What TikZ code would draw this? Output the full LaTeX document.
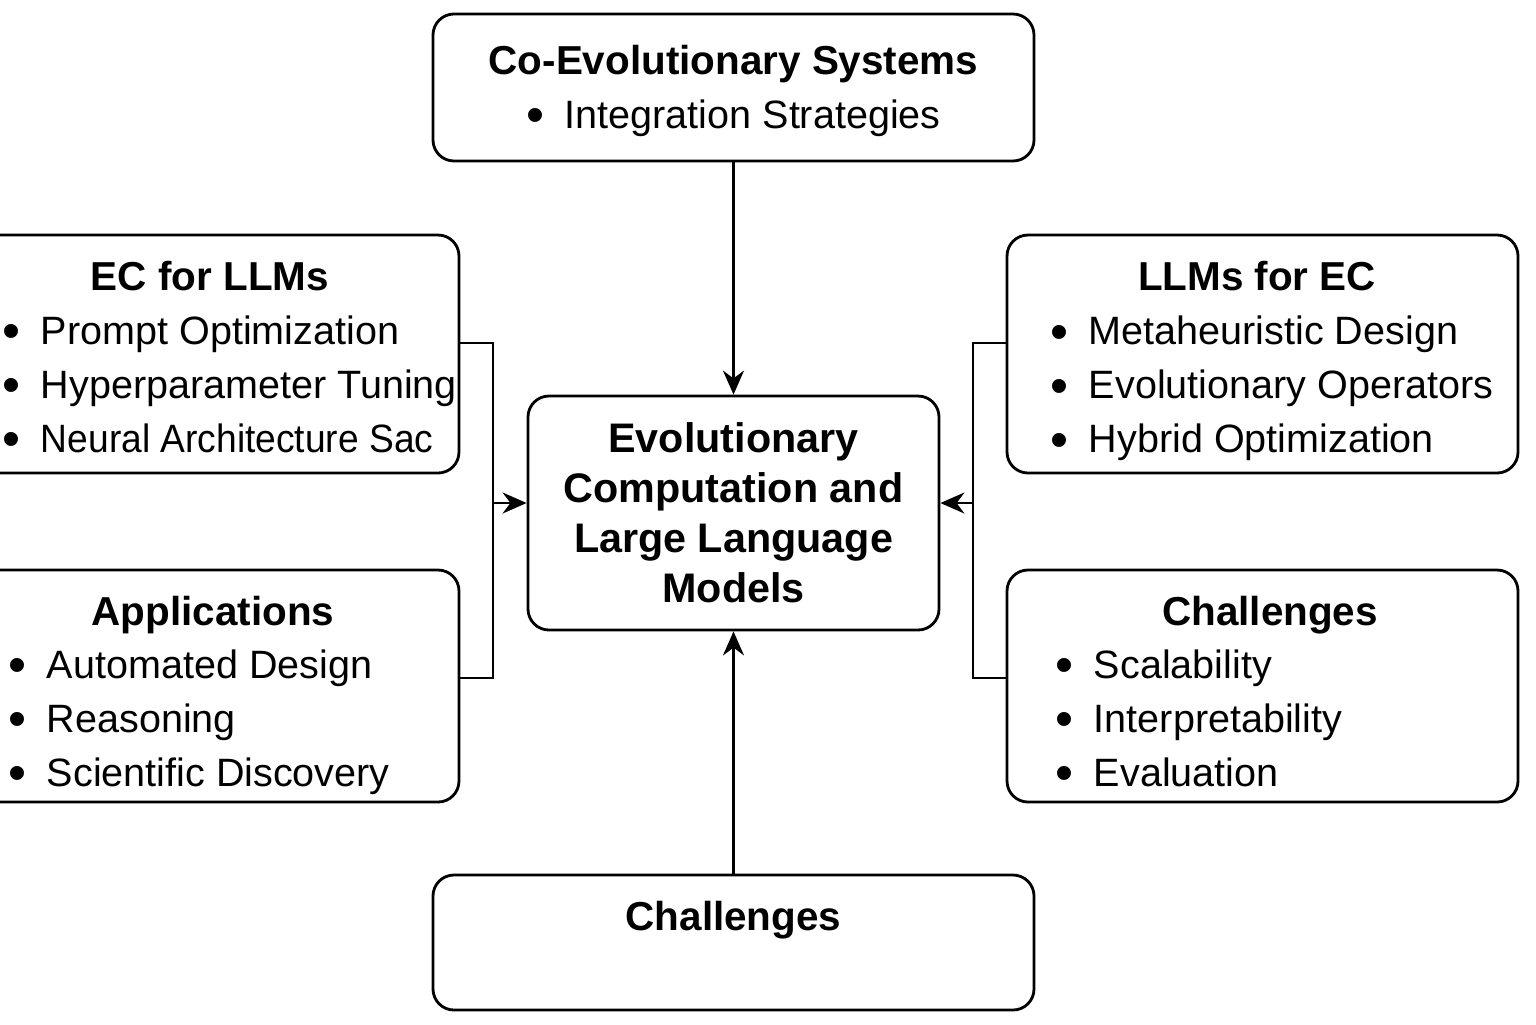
\documentclass[tikz,border=0pt]{standalone}
\usepackage{fontspec}
\setmainfont{Liberation Sans}
\usetikzlibrary{arrows.meta}
\newcommand{\itm}{\raisebox{-0.11em}{\scalebox{1.3}{\textbullet}}\hspace{0.52em}}

\begin{document}
\begin{tikzpicture}[
    panel/.style={draw, line width=1.6pt, rounded corners=0.42cm, inner sep=0pt},
    ttl/.style={font=\fontsize{23}{30.7}\selectfont\bfseries, inner sep=0pt},
    lst/.style={font=\fontsize{22.5}{30.7}\selectfont, align=left, anchor=west, inner sep=0pt},
    link/.style={line width=1.3pt},
    arr/.style={link, -{Stealth[length=0.48cm, width=0.42cm]}}
]
    % page and margins
    \fill[white] (0,0) rectangle (30.72,-20.48);
    \useasboundingbox (0,0) rectangle (30.72,-20.48);

    % central topic
    \node[panel, minimum width=8.22cm, minimum height=4.68cm, align=center,
          font=\fontsize{23.5}{28.45}\selectfont\bfseries] (core) at (14.67,-10.26)
          {Evolutionary\\Computation and\\Large Language\\Models};

    % top and bottom boxes
    \node[panel, minimum width=12.02cm, minimum height=2.94cm] (coevo) at (14.67,-1.75) {};
    \node[align=center, inner sep=0pt, font=\fontsize{22.5}{30.7}\selectfont] (coevo-t) at (14.67,-1.82)
          {{\fontsize{23}{30.7}\selectfont\bfseries Co-Evolutionary Systems}\\\itm Integration Strategies};
    \node[panel, minimum width=12.02cm, minimum height=2.7cm] (chbot) at (14.67,-18.85) {};
    \node[ttl] (chbot-t) at (14.67,-18.4) {Challenges};

    % left side
    \node[panel, minimum width=9.88cm, minimum height=4.76cm] (ecllm) at (4.24,-7.08) {};
    \node[ttl] (ecllm-t) at (4.2,-5.52) {EC for LLMs};
    \node[lst] (ecllm-l) at (0.04,-7.72)
          {\itm Prompt Optimization\\\itm Hyperparameter Tuning\\\itm \scalebox{0.94}[1]{Neural Architecture Sac}};

    \node[panel, minimum width=9.88cm, minimum height=4.64cm] (apps) at (4.24,-13.72) {};
    \node[ttl] (apps-t) at (4.26,-12.3) {Applications};
    \node[lst] (apps-l) at (0.16,-14.44)
          {\itm Automated Design\\\itm Reasoning\\\itm Scientific Discovery};

    % right side
    \node[panel, minimum width=10.22cm, minimum height=4.76cm] (llmec) at (25.25,-7.08) {};
    \node[ttl] (llmec-t) at (25.14,-5.52) {LLMs for EC};
    \node[lst] (llmec-l) at (21.0,-7.77)
          {\itm Metaheuristic Design\\\itm Evolutionary Operators\\\itm Hybrid Optimization};

    \node[panel, minimum width=10.22cm, minimum height=4.64cm] (chright) at (25.25,-13.72) {};
    \node[ttl] (chright-t) at (25.4,-12.3) {Challenges};
    \node[lst] (chright-l) at (21.1,-14.4)
          {\itm Scalability\\\itm Interpretability\\\itm Evaluation};

    % junction points of the side brackets
    \coordinate (ljoin) at (9.86,-10.06);
    \coordinate (rjoin) at (19.46,-10.06);

    % connectors
    \draw[arr] (coevo) -- (core);
    \draw[arr] (chbot) -- (core);
    \draw[link] ([yshift=0.22cm]ecllm.east) -| (ljoin) |- ([yshift=0.16cm]apps.east);
    \draw[arr] (ljoin) -- (ljoin -| core.west);
    \draw[link] ([yshift=0.22cm]llmec.west) -| (rjoin) |- ([yshift=0.16cm]chright.west);
    \draw[arr] (rjoin) -- (rjoin -| core.east);
\end{tikzpicture}
\end{document}
